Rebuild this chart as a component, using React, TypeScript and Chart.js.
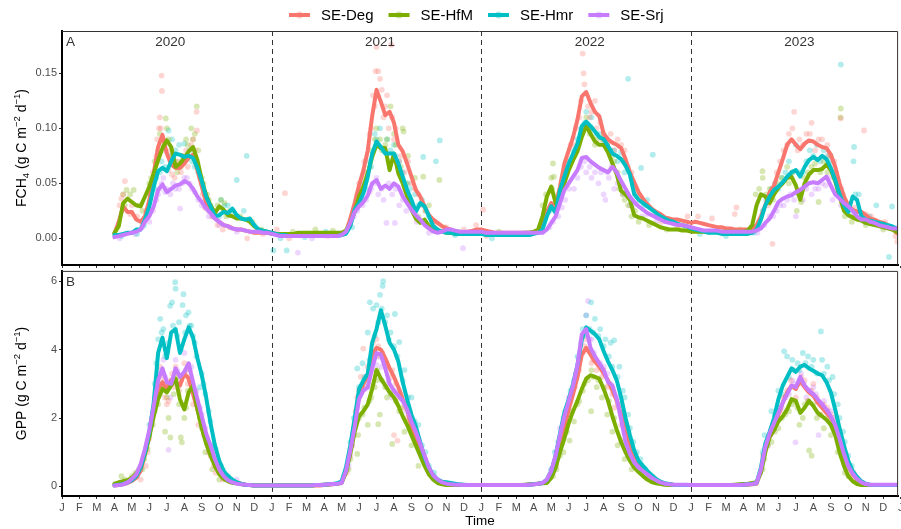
import React, { useEffect, useRef } from "react";
import { Chart, registerables } from "chart.js";

Chart.register(...registerables);

const FONT = '"Liberation Sans", Arial, Helvetica, sans-serif';
Chart.defaults.font.family = FONT;

// ---------------- data ----------------
const SITES = ["SE-Deg", "SE-HfM", "SE-Hmr", "SE-Srj"];
const COLORS = ["#F8766D", "#7CAE00", "#00BFC4", "#C77CFF"];
const MONTH_LETTERS = ["J", "F", "M", "A", "M", "J", "J", "A", "S", "O", "N", "D"];
const YEAR_LABELS = ["2020", "2021", "2022", "2023"];
const YEAR_BREAKS = [12, 24, 36]; // months since Jan 2020
const MONTH_TICKS = Array.from({ length: 49 }, (_, i) => i);
const FCH4_TICKS = [0, 0.05, 0.1, 0.15];
const GPP_TICKS = [0, 2, 4, 6];

// smoothed-line time axis: months since 1 Jan 2020, weekly steps from April 2020
const LINE_MONTHS = Array.from({ length: 181 }, (_, i) => 3 + i * 0.25);

// FCH4 (g C m-2 d-1) smoothed lines
const fch4Deg = [
  0.004, 0.015, 0.029, 0.024, 0.024, 0.017, 0.015, 0.020, 0.035, 0.059, 0.083, 0.094, 0.077, 0.067, 0.064, 0.064,
  0.068, 0.073, 0.076, 0.062, 0.047, 0.032, 0.024, 0.018, 0.015, 0.012, 0.011, 0.009, 0.008, 0.008, 0.007, 0.006,
  0.005, 0.005, 0.005, 0.005,
  0.005, 0.004, 0.004, 0.004, 0.002, 0.002, 0.002, 0.002, 0.003, 0.003, 0.003, 0.003, 0.003, 0.003, 0.003, 0.003,
  0.003, 0.005, 0.018, 0.032, 0.048, 0.062, 0.080, 0.111, 0.135, 0.124, 0.112, 0.115, 0.105, 0.085, 0.079, 0.068,
  0.056, 0.044, 0.038, 0.029, 0.021, 0.017, 0.014, 0.011, 0.009, 0.008, 0.006, 0.005, 0.005, 0.006, 0.007, 0.008,
  0.008, 0.007, 0.006, 0.005, 0.005, 0.005, 0.005, 0.005, 0.005, 0.005, 0.005, 0.005, 0.005, 0.006, 0.014, 0.024,
  0.032, 0.029, 0.047, 0.068, 0.080, 0.092, 0.108, 0.129, 0.133, 0.123, 0.115, 0.111, 0.095, 0.090, 0.087, 0.085,
  0.082, 0.072, 0.060, 0.051, 0.042, 0.036, 0.031, 0.027, 0.024, 0.022, 0.019, 0.018, 0.017, 0.017, 0.016, 0.015,
  0.014, 0.015, 0.014, 0.013, 0.012, 0.011, 0.010, 0.010, 0.009, 0.009, 0.008, 0.008, 0.008, 0.008, 0.009, 0.012,
  0.020, 0.030, 0.042, 0.048, 0.060, 0.072, 0.085, 0.090, 0.085, 0.081, 0.086, 0.089, 0.088, 0.085, 0.083, 0.082,
  0.076, 0.065, 0.050, 0.038, 0.030, 0.026, 0.024, 0.024, 0.021, 0.018, 0.017, 0.015, 0.014, 0.012, 0.010, 0.005,
  0.003,
];
const fch4HfM = [
  0.005, 0.011, 0.032, 0.036, 0.033, 0.030, 0.029, 0.038, 0.047, 0.059, 0.071, 0.082, 0.089, 0.083, 0.065, 0.068,
  0.073, 0.079, 0.083, 0.071, 0.053, 0.039, 0.030, 0.023, 0.029, 0.026, 0.021, 0.020, 0.018, 0.018, 0.017, 0.015,
  0.011, 0.008, 0.007, 0.006,
  0.004, 0.004, 0.004, 0.004, 0.004, 0.004, 0.005, 0.005, 0.005, 0.005, 0.005, 0.005, 0.005, 0.005, 0.005, 0.005,
  0.005, 0.007, 0.014, 0.024, 0.038, 0.047, 0.059, 0.074, 0.085, 0.082, 0.082, 0.062, 0.077, 0.059, 0.050, 0.038,
  0.026, 0.018, 0.014, 0.017, 0.011, 0.008, 0.007, 0.006, 0.005, 0.005, 0.004, 0.004, 0.004, 0.004, 0.004, 0.004,
  0.004, 0.004, 0.004, 0.004, 0.004, 0.004, 0.004, 0.004, 0.004, 0.004, 0.005, 0.005, 0.006, 0.008, 0.020, 0.038,
  0.047, 0.032, 0.035, 0.050, 0.062, 0.071, 0.079, 0.092, 0.102, 0.095, 0.088, 0.085, 0.085, 0.078, 0.068, 0.058,
  0.043, 0.040, 0.035, 0.021, 0.019, 0.018, 0.016, 0.014, 0.012, 0.010, 0.009, 0.008, 0.008, 0.008, 0.007, 0.007,
  0.006, 0.006, 0.006, 0.006, 0.006, 0.006, 0.006, 0.006, 0.006, 0.006, 0.006, 0.006, 0.006, 0.007, 0.012, 0.030,
  0.040, 0.038, 0.032, 0.040, 0.046, 0.050, 0.055, 0.056, 0.048, 0.035, 0.050, 0.058, 0.062, 0.062, 0.063, 0.067,
  0.062, 0.052, 0.038, 0.025, 0.021, 0.019, 0.017, 0.016, 0.014, 0.013, 0.012, 0.011, 0.010, 0.009, 0.008, 0.006,
  0.006,
];
const fch4Hmr = [
  0.003, 0.003, 0.004, 0.005, 0.005, 0.008, 0.008, 0.017, 0.029, 0.047, 0.061, 0.064, 0.061, 0.070, 0.077, 0.076,
  0.074, 0.075, 0.073, 0.064, 0.052, 0.038, 0.029, 0.020, 0.021, 0.024, 0.023, 0.027, 0.021, 0.018, 0.017, 0.018,
  0.012, 0.008, 0.007, 0.006,
  0.005, 0.004, 0.003, 0.003, 0.002, 0.002, 0.002, 0.002, 0.002, 0.002, 0.002, 0.002, 0.002, 0.002, 0.002, 0.002,
  0.003, 0.004, 0.011, 0.026, 0.032, 0.041, 0.056, 0.077, 0.088, 0.083, 0.077, 0.077, 0.077, 0.068, 0.056, 0.044,
  0.035, 0.024, 0.032, 0.029, 0.020, 0.011, 0.008, 0.006, 0.005, 0.005, 0.004, 0.004, 0.004, 0.004, 0.004, 0.004,
  0.004, 0.003, 0.003, 0.003, 0.003, 0.003, 0.003, 0.003, 0.003, 0.003, 0.003, 0.003, 0.004, 0.005, 0.008, 0.020,
  0.029, 0.023, 0.044, 0.056, 0.068, 0.077, 0.086, 0.102, 0.106, 0.102, 0.097, 0.092, 0.090, 0.084, 0.077, 0.075,
  0.072, 0.066, 0.058, 0.040, 0.035, 0.032, 0.029, 0.026, 0.023, 0.020, 0.018, 0.016, 0.015, 0.013, 0.012, 0.011,
  0.009, 0.008, 0.007, 0.006, 0.005, 0.005, 0.005, 0.004, 0.004, 0.004, 0.004, 0.004, 0.004, 0.004, 0.005, 0.008,
  0.017, 0.030, 0.038, 0.044, 0.047, 0.051, 0.056, 0.060, 0.062, 0.056, 0.065, 0.071, 0.074, 0.071, 0.075, 0.072,
  0.064, 0.053, 0.040, 0.030, 0.024, 0.038, 0.035, 0.020, 0.017, 0.016, 0.015, 0.014, 0.013, 0.012, 0.011, 0.009,
  0.008,
];
const fch4Srj = [
  0.001, 0.002, 0.003, 0.004, 0.005, 0.006, 0.008, 0.015, 0.020, 0.029, 0.044, 0.049, 0.042, 0.045, 0.048, 0.049,
  0.052, 0.050, 0.045, 0.038, 0.033, 0.027, 0.023, 0.018, 0.015, 0.012, 0.011, 0.009, 0.008, 0.008, 0.007, 0.006,
  0.006, 0.006, 0.005, 0.005,
  0.004, 0.003, 0.002, 0.002, 0.002, 0.002, 0.002, 0.002, 0.002, 0.002, 0.002, 0.002, 0.002, 0.002, 0.002, 0.002,
  0.003, 0.006, 0.014, 0.024, 0.029, 0.033, 0.039, 0.050, 0.053, 0.045, 0.048, 0.045, 0.050, 0.047, 0.038, 0.032,
  0.026, 0.021, 0.017, 0.012, 0.009, 0.006, 0.005, 0.006, 0.008, 0.008, 0.007, 0.006, 0.006, 0.006, 0.006, 0.006,
  0.006, 0.005, 0.005, 0.005, 0.005, 0.005, 0.005, 0.005, 0.005, 0.005, 0.005, 0.005, 0.005, 0.005, 0.005, 0.008,
  0.014, 0.020, 0.032, 0.044, 0.050, 0.056, 0.062, 0.073, 0.074, 0.070, 0.067, 0.064, 0.062, 0.060, 0.065, 0.060,
  0.052, 0.045, 0.038, 0.033, 0.029, 0.026, 0.023, 0.021, 0.019, 0.017, 0.015, 0.014, 0.013, 0.012, 0.012, 0.011,
  0.010, 0.009, 0.008, 0.007, 0.007, 0.007, 0.007, 0.006, 0.006, 0.006, 0.006, 0.006, 0.006, 0.006, 0.006, 0.007,
  0.009, 0.014, 0.018, 0.025, 0.033, 0.036, 0.038, 0.039, 0.042, 0.044, 0.047, 0.050, 0.051, 0.050, 0.053, 0.056,
  0.048, 0.040, 0.036, 0.032, 0.029, 0.025, 0.020, 0.017, 0.017, 0.015, 0.014, 0.012, 0.011, 0.010, 0.009, 0.009,
  0.010,
];

// GPP (g C m-2 d-1) smoothed lines
const gppDeg = [
  0.03, 0.04, 0.06, 0.10, 0.16, 0.25, 0.45, 0.95, 1.50, 2.20, 2.85, 3.05, 2.85, 3.10, 3.05, 2.95,
  3.30, 3.15, 2.70, 2.25, 1.85, 1.40, 1.00, 0.65, 0.40, 0.30, 0.20, 0.16, 0.12, 0.08, 0.05, 0.04,
  0.03, 0.03, 0.03, 0.03,
  0.03, 0.03, 0.03, 0.03, 0.03, 0.03, 0.03, 0.03, 0.03, 0.03, 0.03, 0.03, 0.04, 0.05, 0.06, 0.08,
  0.12, 0.45, 1.05, 1.80, 2.65, 3.00, 3.25, 3.85, 4.05, 4.00, 3.75, 3.45, 3.20, 2.90, 2.55, 2.25,
  1.75, 1.40, 1.10, 0.80, 0.50, 0.30, 0.18, 0.12, 0.08, 0.06, 0.05, 0.04, 0.04, 0.04, 0.04, 0.04,
  0.04, 0.04, 0.04, 0.04, 0.04, 0.04, 0.04, 0.04, 0.04, 0.04, 0.04, 0.05, 0.06, 0.08, 0.10, 0.15,
  0.35, 0.70, 1.30, 1.75, 2.25, 2.70, 3.20, 3.85, 4.05, 3.85, 3.65, 3.50, 3.30, 3.10, 2.80, 2.50,
  2.10, 1.60, 1.15, 0.85, 0.65, 0.50, 0.38, 0.28, 0.20, 0.13, 0.08, 0.06, 0.04, 0.04, 0.04, 0.04,
  0.04, 0.04, 0.04, 0.04, 0.04, 0.04, 0.04, 0.04, 0.04, 0.04, 0.04, 0.04, 0.04, 0.05, 0.06, 0.08,
  0.45, 1.10, 1.45, 1.65, 2.10, 2.45, 2.75, 2.95, 2.85, 3.10, 2.90, 2.75, 2.65, 2.45, 2.30, 2.15,
  2.00, 1.75, 1.40, 0.95, 0.60, 0.35, 0.20, 0.10, 0.06, 0.04, 0.04, 0.04, 0.04, 0.04, 0.04, 0.04,
  0.04,
];
const gppHfM = [
  0.08, 0.12, 0.15, 0.18, 0.25, 0.38, 0.55, 0.95, 1.45, 2.05, 2.55, 2.85, 2.75, 2.95, 3.15, 2.55,
  2.25, 2.75, 2.95, 2.25, 1.70, 1.25, 0.90, 0.60, 0.35, 0.22, 0.15, 0.10, 0.09, 0.07, 0.05, 0.04,
  0.03, 0.03, 0.03, 0.03,
  0.03, 0.03, 0.03, 0.03, 0.03, 0.03, 0.03, 0.03, 0.03, 0.03, 0.04, 0.04, 0.05, 0.06, 0.07, 0.08,
  0.10, 0.40, 0.95, 1.60, 2.05, 2.20, 2.40, 2.85, 3.40, 3.15, 2.95, 2.75, 2.60, 2.35, 2.05, 1.80,
  1.50, 1.20, 0.90, 0.60, 0.35, 0.20, 0.10, 0.06, 0.04, 0.04, 0.04, 0.04, 0.04, 0.04, 0.04, 0.04,
  0.04, 0.04, 0.04, 0.04, 0.04, 0.04, 0.04, 0.04, 0.04, 0.04, 0.05, 0.06, 0.07, 0.08, 0.09, 0.10,
  0.25, 0.55, 1.00, 1.40, 1.85, 2.20, 2.50, 2.85, 3.15, 3.25, 3.20, 3.15, 2.85, 2.50, 2.05, 1.65,
  1.30, 1.00, 0.75, 0.55, 0.42, 0.30, 0.20, 0.13, 0.09, 0.07, 0.05, 0.04, 0.04, 0.04, 0.04, 0.04,
  0.04, 0.04, 0.04, 0.04, 0.04, 0.04, 0.04, 0.04, 0.04, 0.04, 0.05, 0.06, 0.07, 0.08, 0.10, 0.12,
  0.40, 1.00, 1.45, 1.65, 1.90, 2.05, 2.25, 2.55, 2.50, 2.15, 2.30, 2.50, 2.35, 2.15, 2.05, 1.95,
  1.80, 1.50, 1.00, 0.60, 0.30, 0.15, 0.07, 0.04, 0.04, 0.04, 0.04, 0.04, 0.04, 0.04, 0.04, 0.04,
  0.04,
];
const gppHmr = [
  0.03, 0.05, 0.07, 0.12, 0.18, 0.30, 0.55, 1.00, 1.60, 2.45, 3.90, 4.35, 3.75, 4.50, 4.60, 3.90,
  4.30, 4.65, 4.35, 3.75, 3.25, 2.60, 1.85, 1.20, 0.75, 0.45, 0.30, 0.20, 0.12, 0.08, 0.05, 0.04,
  0.03, 0.03, 0.03, 0.03,
  0.03, 0.03, 0.03, 0.03, 0.03, 0.03, 0.03, 0.03, 0.03, 0.03, 0.04, 0.04, 0.05, 0.06, 0.07, 0.09,
  0.15, 0.55, 1.20, 2.00, 2.85, 3.10, 3.30, 4.20, 4.60, 5.15, 4.70, 4.20, 4.00, 3.65, 3.05, 2.55,
  2.10, 1.75, 1.30, 0.85, 0.55, 0.33, 0.20, 0.14, 0.12, 0.10, 0.08, 0.06, 0.05, 0.04, 0.04, 0.04,
  0.04, 0.04, 0.04, 0.04, 0.04, 0.04, 0.04, 0.04, 0.04, 0.04, 0.04, 0.05, 0.06, 0.08, 0.10, 0.20,
  0.45, 0.90, 1.55, 2.15, 2.55, 3.00, 3.55, 4.30, 4.65, 4.55, 4.45, 4.30, 3.95, 3.65, 3.40, 3.10,
  2.60, 2.00, 1.50, 1.05, 0.75, 0.60, 0.45, 0.33, 0.22, 0.14, 0.09, 0.07, 0.05, 0.04, 0.04, 0.04,
  0.04, 0.04, 0.04, 0.04, 0.04, 0.04, 0.04, 0.04, 0.04, 0.04, 0.04, 0.04, 0.05, 0.06, 0.07, 0.10,
  0.55, 1.25, 1.60, 2.00, 2.55, 2.95, 3.20, 3.45, 3.35, 3.50, 3.55, 3.45, 3.38, 3.30, 3.25, 3.05,
  2.75, 2.25, 1.70, 1.20, 0.75, 0.45, 0.28, 0.15, 0.08, 0.05, 0.04, 0.04, 0.04, 0.04, 0.04, 0.04,
  0.04,
];
const gppSrj = [
  0.03, 0.04, 0.06, 0.12, 0.22, 0.35, 0.65, 1.10, 1.65, 2.35, 3.10, 3.45, 3.05, 3.00, 3.45, 3.20,
  3.35, 3.60, 3.05, 2.55, 2.05, 1.55, 1.20, 0.80, 0.50, 0.30, 0.18, 0.12, 0.08, 0.06, 0.05, 0.04,
  0.03, 0.03, 0.03, 0.03,
  0.03, 0.03, 0.03, 0.03, 0.03, 0.03, 0.03, 0.03, 0.03, 0.03, 0.04, 0.04, 0.05, 0.06, 0.07, 0.08,
  0.10, 0.45, 1.05, 1.75, 2.55, 2.80, 2.90, 3.45, 3.90, 3.85, 3.45, 3.00, 2.80, 2.65, 2.50, 2.25,
  1.90, 1.60, 1.25, 0.90, 0.55, 0.32, 0.20, 0.12, 0.08, 0.06, 0.05, 0.05, 0.04, 0.04, 0.04, 0.04,
  0.04, 0.04, 0.04, 0.04, 0.04, 0.04, 0.04, 0.04, 0.04, 0.04, 0.04, 0.05, 0.06, 0.08, 0.10, 0.20,
  0.45, 0.90, 1.50, 2.05, 2.50, 2.95, 3.55, 4.45, 4.60, 4.05, 3.80, 3.60, 3.40, 3.05, 2.95, 2.55,
  1.95, 1.30, 0.95, 0.70, 0.55, 0.45, 0.35, 0.25, 0.18, 0.12, 0.08, 0.06, 0.05, 0.05, 0.05, 0.05,
  0.04, 0.04, 0.04, 0.04, 0.04, 0.04, 0.04, 0.04, 0.04, 0.04, 0.04, 0.04, 0.05, 0.06, 0.07, 0.10,
  0.50, 1.15, 1.55, 1.85, 2.15, 2.45, 2.70, 2.95, 2.90, 3.20, 2.95, 2.80, 2.70, 2.55, 2.40, 2.25,
  2.05, 1.80, 1.40, 0.95, 0.60, 0.38, 0.22, 0.12, 0.07, 0.05, 0.05, 0.05, 0.05, 0.05, 0.05, 0.05,
  0.05,
];

// daily observations shown as faint dots: [month since Jan 2020, value]
const fch4DegObs = [
  [3.3, 0.030], [3.4, 0.036], [3.5, 0.040], [3.6, 0.052], [3.9, 0.022], [4.0, 0.030], [4.3, 0.020], [4.6, 0.012],
  [4.8, 0.025], [5.1, 0.045], [5.2, 0.060], [5.4, 0.075], [5.45, 0.090], [5.55, 0.100], [5.6, 0.110], [5.65, 0.100],
  [5.7, 0.148], [5.72, 0.134], [5.8, 0.090], [5.9, 0.080], [6.1, 0.062], [6.2, 0.080], [6.3, 0.058], [6.45, 0.055],
  [6.6, 0.070], [6.8, 0.060], [6.9, 0.075], [7.1, 0.080], [7.2, 0.065], [7.4, 0.085], [7.5, 0.090], [7.6, 0.080],
  [7.7, 0.115], [7.72, 0.098], [7.9, 0.055], [8.05, 0.040], [8.2, 0.028], [8.4, 0.025], [8.6, 0.020], [8.9, 0.012],
  [9.2, 0.008], [9.6, 0.010], [10.6, 0.000], [11.5, 0.004], [12.76, 0.041],
  [12.3, 0.008], [13.0, 0.000], [15.2, 0.002], [16.4, 0.012], [16.9, 0.040], [17.0, 0.050], [17.3, 0.070], [17.4, 0.060],
  [17.6, 0.095], [17.7, 0.100], [17.8, 0.130], [17.9, 0.120], [17.95, 0.152], [18.0, 0.174], [18.1, 0.152], [18.2, 0.145],
  [18.3, 0.135], [18.4, 0.110], [18.5, 0.120], [18.6, 0.130], [18.7, 0.100], [18.85, 0.176], [18.9, 0.110], [19.0, 0.090],
  [19.1, 0.100], [19.3, 0.070], [19.4, 0.075], [19.6, 0.060], [19.8, 0.070], [20.0, 0.050], [20.2, 0.045], [20.4, 0.040],
  [20.6, 0.030], [20.8, 0.025], [21.3, 0.012], [22.0, 0.010], [23.0, 0.008], [23.7, 0.012],
  [24.1, 0.026], [24.3, 0.002], [25.5, 0.004], [27.6, 0.020], [28.1, 0.030], [28.3, 0.035], [28.6, 0.050], [28.8, 0.060],
  [29.0, 0.070], [29.1, 0.085], [29.3, 0.085], [29.4, 0.100], [29.6, 0.110], [29.7, 0.125], [29.8, 0.168], [29.85, 0.150],
  [29.9, 0.140], [30.1, 0.120], [30.2, 0.110], [30.3, 0.115], [30.5, 0.125], [30.6, 0.100], [30.8, 0.105], [31.0, 0.090],
  [31.2, 0.085], [31.4, 0.095], [31.6, 0.080], [31.8, 0.090], [32.0, 0.085], [32.2, 0.080], [32.4, 0.065], [32.6, 0.060],
  [32.8, 0.045], [33.0, 0.040], [33.2, 0.035], [33.5, 0.030], [34.3, 0.015], [35.2, 0.010], [35.8, 0.020],
  [36.4, 0.020], [37.2, 0.018], [38.5, 0.022], [38.6, 0.028], [39.9, 0.010], [40.4, 0.030], [40.66, -0.005], [40.7, 0.045],
  [40.9, 0.060], [41.1, 0.070], [41.3, 0.080], [41.5, 0.085], [41.6, 0.095], [41.8, 0.100], [41.9, 0.115], [42.1, 0.080],
  [42.2, 0.090], [42.4, 0.085], [42.6, 0.095], [42.8, 0.095], [42.9, 0.105], [43.1, 0.080], [43.3, 0.090], [43.5, 0.090],
  [43.8, 0.085], [43.9, 0.075], [44.2, 0.070], [44.3, 0.060], [44.57, 0.109], [44.6, 0.045], [44.7, 0.040], [45.0, 0.030],
  [45.4, 0.028], [45.6, 0.025], [45.9, 0.098], [46.0, 0.022], [46.3, 0.020], [47.1, 0.015], [47.7, 0.002], [47.8, -0.003],
];
const fch4HfMObs = [
  [3.5, 0.040], [3.6, 0.030], [3.7, 0.044], [3.9, 0.040], [4.1, 0.044], [4.4, 0.030], [4.6, 0.025], [5.0, 0.050],
  [5.1, 0.055], [5.3, 0.070], [5.5, 0.080], [5.6, 0.095], [5.8, 0.085], [5.94, 0.109], [6.0, 0.100], [6.1, 0.090],
  [6.3, 0.075], [6.5, 0.070], [6.6, 0.060], [6.8, 0.065], [6.9, 0.075], [7.1, 0.090], [7.2, 0.085], [7.4, 0.100],
  [7.5, 0.090], [7.6, 0.095], [7.71, 0.120], [7.8, 0.080], [8.0, 0.055], [8.1, 0.050], [8.3, 0.040], [8.4, 0.035],
  [8.8, 0.025], [8.9, 0.030], [9.1, 0.035], [9.3, 0.032], [9.4, 0.020], [9.6, 0.025], [10.2, 0.020], [10.9, 0.015],
  [11.4, 0.008],
  [13.2, 0.006], [14.5, 0.008], [15.5, 0.007], [16.6, 0.020], [17.1, 0.045], [17.3, 0.055], [17.4, 0.060], [17.6, 0.065],
  [17.7, 0.080], [17.9, 0.090], [18.0, 0.100], [18.2, 0.090], [18.3, 0.080], [18.5, 0.085], [18.6, 0.090], [18.75, 0.070],
  [18.8, 0.120], [19.0, 0.095], [19.1, 0.085], [19.4, 0.065], [19.5, 0.100], [19.55, 0.097], [19.7, 0.050], [19.8, 0.075],
  [20.0, 0.030], [20.2, 0.055], [20.4, 0.020], [20.67, 0.056], [20.8, 0.025], [21.0, 0.030], [21.6, 0.053], [21.9, 0.010],
  [22.7, 0.006],
  [25.0, 0.006], [27.5, 0.030], [27.7, 0.040], [28.0, 0.055], [28.05, 0.045], [28.1, 0.068], [28.15, 0.056], [28.3, 0.030],
  [28.4, 0.040], [28.6, 0.045], [28.9, 0.060], [29.0, 0.065], [29.3, 0.075], [29.5, 0.085], [29.7, 0.095], [29.9, 0.100],
  [30.0, 0.110], [30.2, 0.095], [30.3, 0.100], [30.5, 0.085], [30.6, 0.090], [30.9, 0.090], [31.0, 0.095], [31.2, 0.085],
  [31.3, 0.080], [31.5, 0.075], [31.6, 0.070], [31.8, 0.060], [31.9, 0.045], [32.1, 0.040], [32.2, 0.035], [32.4, 0.030],
  [32.6, 0.020], [32.8, 0.025], [33.0, 0.015], [33.6, 0.012], [34.6, 0.008], [35.5, 0.010],
  [37.0, 0.006], [38.8, 0.008], [39.7, 0.040], [39.9, 0.045], [40.09, 0.061], [40.1, 0.055], [40.3, 0.040], [40.5, 0.045],
  [40.7, 0.035], [41.0, 0.050], [41.2, 0.055], [41.5, 0.065], [41.6, 0.050], [41.8, 0.060], [42.05, 0.025], [42.15, 0.040],
  [42.3, 0.033], [42.5, 0.055], [42.7, 0.060], [42.9, 0.065], [43.1, 0.068], [43.3, 0.033], [43.4, 0.060], [43.6, 0.070],
  [43.8, 0.060], [44.0, 0.075], [44.2, 0.055], [44.4, 0.040], [44.55, 0.110], [44.57, 0.118], [44.8, 0.020], [44.9, 0.025],
  [45.2, 0.015], [45.5, 0.018], [46.0, 0.012], [47.0, 0.008],
];
const fch4HmrObs = [
  [3.4, 0.002], [4.3, 0.004], [4.7, 0.012], [4.9, 0.020], [5.1, 0.040], [5.3, 0.045], [5.4, 0.055], [5.6, 0.060],
  [5.7, 0.070], [5.9, 0.065], [6.1, 0.098], [6.2, 0.075], [6.3, 0.090], [6.5, 0.080], [6.7, 0.085], [6.85, 0.070],
  [7.0, 0.086], [7.15, 0.075], [7.3, 0.080], [7.45, 0.070], [7.6, 0.065], [7.8, 0.060], [8.0, 0.050], [8.2, 0.040],
  [8.3, 0.030], [8.5, 0.030], [8.7, 0.020], [9.0, 0.020], [9.1, 0.035], [9.3, 0.030], [9.5, 0.030], [9.7, 0.025],
  [10.0, 0.053], [10.4, 0.025], [10.57, 0.075], [11.0, 0.012], [12.1, -0.011], [12.5, 0.000], [12.86, -0.011],
  [13.9, 0.001], [15.1, 0.006], [16.6, 0.010], [17.0, 0.035], [17.2, 0.050], [17.4, 0.045], [17.6, 0.070], [17.7, 0.065],
  [17.9, 0.095], [18.0, 0.090], [18.2, 0.100], [18.4, 0.080], [18.6, 0.090], [18.8, 0.080], [19.0, 0.085], [19.1, 0.075],
  [19.3, 0.070], [19.5, 0.060], [19.8, 0.050], [19.9, 0.045], [20.2, 0.040], [20.4, 0.030], [20.6, 0.035], [20.67, 0.074],
  [21.0, 0.020], [21.2, 0.015], [21.4, 0.070], [21.62, 0.089], [22.5, 0.003],
  [24.6, 0.000], [27.3, 0.006], [27.9, 0.025], [28.0, 0.030], [28.3, 0.030], [28.6, 0.050], [28.8, 0.060], [29.1, 0.070],
  [29.3, 0.080], [29.5, 0.090], [29.7, 0.100], [29.9, 0.105], [30.0, 0.115], [30.2, 0.100], [30.3, 0.110], [30.6, 0.095],
  [30.8, 0.095], [31.0, 0.085], [31.2, 0.090], [31.4, 0.080], [31.6, 0.080], [31.8, 0.070], [32.0, 0.078], [32.2, 0.060],
  [32.4, 0.145], [32.7, 0.050], [32.9, 0.040], [33.14, 0.064], [33.3, 0.030], [33.5, 0.035], [33.81, 0.076], [34.3, 0.020],
  [35.0, 0.016], [35.7, 0.010],
  [36.5, 0.004], [38.0, 0.002], [39.6, 0.005], [40.1, 0.025], [40.3, 0.035], [40.6, 0.045], [40.8, 0.050], [41.0, 0.045],
  [41.2, 0.055], [41.4, 0.060], [41.6, 0.070], [41.8, 0.060], [42.0, 0.085], [42.2, 0.060], [42.4, 0.060], [42.6, 0.070],
  [42.8, 0.080], [43.0, 0.075], [43.2, 0.085], [43.4, 0.070], [43.6, 0.080], [43.8, 0.075], [44.0, 0.070], [44.2, 0.060],
  [44.5, 0.045], [44.57, 0.158], [44.9, 0.030], [45.1, 0.025], [45.3, 0.070], [45.33, 0.083], [45.4, 0.040], [45.6, 0.040],
  [46.2, 0.020], [46.6, 0.030], [47.33, -0.017], [47.5, 0.029], [47.9, 0.010],
];
const fch4SrjObs = [
  [3.3, 0.000], [4.2, 0.004], [4.6, 0.010], [5.0, 0.015], [5.2, 0.025], [5.4, 0.035], [5.5, 0.040], [5.6, 0.045],
  [5.7, 0.050], [5.8, 0.055], [5.9, 0.042], [6.0, 0.045], [6.2, 0.040], [6.35, 0.050], [6.5, 0.045], [6.7, 0.045],
  [6.76, 0.027], [6.9, 0.050], [7.0, 0.055], [7.15, 0.055], [7.3, 0.050], [7.45, 0.045], [7.6, 0.042], [7.8, 0.035],
  [8.0, 0.030], [8.2, 0.028], [8.4, 0.020], [8.6, 0.020], [9.0, 0.012], [10.0, 0.006],
  [13.5, -0.013], [14.3, 0.000], [16.7, 0.020], [16.9, 0.025], [17.2, 0.030], [17.4, 0.035], [17.6, 0.042], [17.7, 0.045],
  [17.9, 0.050], [18.0, 0.055], [18.1, 0.040], [18.3, 0.045], [18.4, 0.035], [18.57, 0.014], [18.7, 0.050], [18.9, 0.040],
  [19.05, 0.014], [19.1, 0.045], [19.3, 0.030], [19.5, 0.035], [19.7, 0.025], [19.9, 0.030], [20.1, 0.025], [20.3, 0.015],
  [20.6, 0.015], [21.0, 0.005], [22.95, -0.009],
  [27.9, 0.010], [28.1, 0.015], [28.4, 0.020], [28.6, 0.028], [28.8, 0.035], [29.0, 0.045], [29.3, 0.045], [29.5, 0.055],
  [29.7, 0.065], [29.9, 0.070], [30.0, 0.060], [30.2, 0.065], [30.3, 0.055], [30.5, 0.060], [30.7, 0.050], [30.85, 0.060],
  [31.0, 0.040], [31.1, 0.035], [31.2, 0.060], [31.3, 0.055], [31.45, 0.065], [31.6, 0.045], [31.8, 0.050], [32.1, 0.040],
  [32.3, 0.040], [32.5, 0.030], [32.7, 0.030], [33.2, 0.020], [33.5, 0.022], [34.0, 0.015],
  [39.8, 0.005], [40.2, 0.012], [40.5, 0.020], [40.7, 0.020], [40.9, 0.025], [41.1, 0.030], [41.3, 0.030], [41.5, 0.035],
  [41.7, 0.040], [41.9, 0.035], [42.0, 0.020], [42.2, 0.040], [42.4, 0.035], [42.6, 0.045], [42.9, 0.040], [43.1, 0.045],
  [43.3, 0.045], [43.5, 0.050], [43.7, 0.048], [43.9, 0.055], [44.1, 0.035], [44.3, 0.040], [44.6, 0.030], [44.8, 0.030],
  [45.2, 0.020], [45.4, 0.022], [46.0, 0.015],
];

const gppDegObs = [
  [4.5, 0.2], [4.8, 0.6], [4.9, 1.0], [5.0, 1.4], [5.1, 1.8], [5.3, 2.3], [5.4, 2.8], [5.5, 3.2],
  [5.6, 3.5], [5.7, 3.2], [5.8, 2.9], [5.9, 2.6], [6.0, 2.4], [6.1, 2.5], [6.2, 3.1], [6.3, 3.3],
  [6.4, 2.9], [6.5, 3.5], [6.6, 3.3], [6.7, 2.8], [6.8, 3.1], [7.0, 3.6], [7.1, 3.4], [7.2, 3.0],
  [7.3, 3.2], [7.5, 2.4], [7.6, 2.6], [7.8, 1.8], [7.9, 2.0], [8.1, 1.5], [8.2, 1.5], [8.4, 1.0],
  [8.5, 0.9], [8.7, 0.6], [8.8, 0.4], [9.2, 0.2],
  [16.3, 0.4], [16.5, 0.9], [16.6, 1.2], [16.8, 2.2], [16.9, 2.6], [17.0, 2.8], [17.1, 3.2], [17.24, 4.03],
  [17.4, 3.2], [17.5, 3.5], [17.7, 3.6], [17.8, 4.2], [17.9, 3.9], [18.0, 4.3], [18.1, 4.1], [18.2, 3.8],
  [18.35, 3.9], [18.5, 3.6], [18.6, 3.5], [18.8, 3.2], [18.9, 3.4], [19.0, 1.5], [19.1, 3.0], [19.2, 1.34],
  [19.3, 2.6], [19.4, 2.7], [19.6, 2.3], [19.7, 2.0], [19.9, 2.1], [20.1, 1.6], [20.3, 1.5], [20.5, 1.0],
  [20.7, 0.9], [21.0, 0.4],
  [28.1, 0.4], [28.3, 0.6], [28.5, 1.1], [28.6, 1.4], [28.8, 1.8], [29.0, 2.1], [29.2, 2.7], [29.35, 2.9],
  [29.5, 3.3], [29.6, 3.4], [29.8, 3.9], [29.9, 4.1], [30.0, 4.3], [30.1, 4.0], [30.3, 3.6], [30.4, 3.7],
  [30.6, 3.4], [30.7, 3.6], [30.9, 3.2], [31.0, 3.4], [31.2, 2.9], [31.3, 3.0], [31.5, 2.7], [31.6, 2.3],
  [31.8, 2.4], [32.0, 1.8], [32.2, 1.7], [32.4, 1.2], [32.6, 1.0], [32.8, 0.8], [33.3, 0.5],
  [40.1, 0.9], [40.3, 1.2], [40.5, 1.5], [40.7, 1.7], [40.9, 2.0], [41.1, 2.2], [41.3, 2.6], [41.5, 2.8],
  [41.7, 3.1], [41.9, 2.9], [42.0, 2.6], [42.2, 3.0], [42.3, 3.2], [42.5, 3.1], [42.7, 2.5], [42.9, 2.8],
  [43.0, 3.0], [43.2, 2.6], [43.4, 2.1], [43.6, 2.4], [43.8, 2.3], [44.0, 2.1], [44.2, 2.0], [44.3, 1.8],
  [44.5, 1.6], [44.7, 1.1], [44.9, 0.8], [45.1, 0.5], [45.3, 0.4],
];
const gppHfMObs = [
  [3.4, 0.3], [3.6, 0.2], [4.0, 0.3], [4.2, 0.4], [4.4, 0.5], [4.6, 0.5], [4.7, 0.8], [4.9, 1.1],
  [5.0, 1.5], [5.2, 1.8], [5.3, 2.2], [5.5, 2.4], [5.6, 2.7], [5.7, 3.0], [5.8, 2.9], [5.9, 1.6],
  [6.0, 2.6], [6.1, 2.0], [6.2, 1.43], [6.3, 3.0], [6.4, 2.7], [6.5, 3.1], [6.6, 3.2], [6.7, 2.4],
  [6.8, 1.43], [6.86, 1.29], [7.0, 2.0], [7.1, 2.3], [7.2, 2.8], [7.3, 3.1], [7.45, 3.0], [7.6, 2.8],
  [7.7, 2.4], [7.9, 2.0], [8.0, 1.7], [8.2, 1.0], [8.4, 1.2], [8.6, 0.5], [8.8, 0.6], [9.0, 0.2], [9.2, 0.3],
  [16.4, 0.5], [16.5, 0.8], [16.7, 1.5], [16.9, 0.95], [16.95, 1.5], [17.0, 2.0], [17.2, 2.1], [17.3, 2.3],
  [17.5, 1.8], [17.6, 2.5], [17.7, 2.6], [17.9, 2.9], [18.0, 3.1], [18.05, 3.4], [18.1, 1.82], [18.19, 2.1],
  [18.3, 3.1], [18.5, 2.9], [18.6, 2.6], [18.8, 2.7], [18.9, 1.24], [19.1, 2.5], [19.3, 2.2], [19.4, 2.3],
  [19.6, 1.6], [19.7, 1.9], [20.0, 1.2], [20.2, 1.4], [20.4, 0.6], [20.6, 0.9],
  [28.1, 0.3], [28.3, 0.5], [28.5, 0.9], [28.7, 1.0], [28.9, 1.6], [29.05, 1.34], [29.2, 2.2], [29.3, 1.9],
  [29.5, 2.4], [29.6, 2.5], [29.8, 2.8], [29.9, 3.0], [30.1, 3.1], [30.28, 2.2], [30.3, 3.4], [30.4, 3.2],
  [30.6, 2.9], [30.7, 3.1], [30.9, 2.6], [31.0, 2.9], [31.2, 2.1], [31.3, 2.5], [31.5, 1.6], [31.6, 2.0],
  [31.8, 1.2], [32.0, 1.3], [32.2, 0.8], [32.4, 0.9], [32.6, 0.5],
  [40.1, 0.5], [40.2, 0.8], [40.4, 1.2], [40.6, 1.3], [40.8, 1.6], [41.0, 1.7], [41.2, 2.0], [41.4, 2.1],
  [41.6, 2.2], [41.8, 2.4], [41.9, 2.5], [42.1, 2.3], [42.2, 1.8], [42.4, 2.0], [42.5, 2.4], [42.7, 2.5],
  [42.76, 1.05], [42.9, 0.9], [43.0, 2.4], [43.2, 2.0], [43.4, 2.1], [43.6, 1.7], [43.8, 2.0], [44.0, 1.5],
  [44.2, 1.7], [44.4, 1.0], [44.6, 0.9], [44.8, 0.4], [45.0, 0.3],
];
const gppHmrObs = [
  [4.5, 0.5], [4.8, 1.1], [5.0, 1.8], [5.15, 2.0], [5.3, 3.0], [5.4, 3.6], [5.5, 4.3], [5.62, 4.9],
  [5.7, 4.5], [5.8, 4.6], [5.9, 3.8], [6.0, 4.0], [6.1, 4.2], [6.19, 5.28], [6.3, 5.38], [6.35, 4.7],
  [6.48, 5.97], [6.5, 5.78], [6.6, 4.4], [6.7, 4.8], [6.8, 4.0], [6.9, 5.3], [6.95, 5.62], [7.05, 4.5],
  [7.1, 5.0], [7.24, 5.09], [7.3, 4.7], [7.4, 4.7], [7.5, 4.4], [7.6, 4.2], [7.7, 3.8], [7.9, 2.9],
  [8.0, 3.3], [8.1, 3.0], [8.2, 2.7], [8.4, 2.2], [8.5, 1.9], [8.7, 1.2], [8.8, 1.1], [9.1, 0.6],
  [9.2, 0.5], [9.5, 0.3],
  [16.3, 0.5], [16.5, 1.3], [16.7, 2.0], [16.9, 3.45], [17.0, 2.9], [17.2, 3.6], [17.3, 3.2], [17.5, 4.5],
  [17.6, 3.7], [17.62, 5.38], [17.8, 5.2], [17.9, 4.4], [18.0, 5.3], [18.1, 4.8], [18.2, 5.6], [18.3, 5.2],
  [18.35, 5.86], [18.38, 6.0], [18.5, 4.8], [18.6, 5.0], [18.7, 4.3], [18.8, 4.5], [19.0, 4.1], [19.05, 5.04],
  [19.2, 3.8], [19.3, 4.22], [19.5, 3.1], [19.6, 3.4], [19.8, 2.6], [20.0, 2.6], [20.2, 1.9], [20.4, 1.8],
  [20.6, 1.2], [20.8, 1.0], [21.0, 0.6], [21.3, 0.4],
  [28.0, 0.5], [28.2, 1.0], [28.4, 1.3], [28.7, 2.0], [28.8, 2.2], [29.1, 2.8], [29.3, 3.1], [29.5, 3.8],
  [29.6, 3.7], [29.8, 4.6], [29.9, 4.4], [30.0, 5.0], [30.2, 4.6], [30.28, 5.38], [30.4, 4.5], [30.5, 4.9],
  [30.7, 4.4], [30.8, 4.6], [31.0, 4.1], [31.1, 4.3], [31.3, 3.8], [31.4, 4.2], [31.5, 3.5], [31.6, 4.27],
  [31.8, 3.2], [31.9, 3.5], [32.1, 2.8], [32.2, 2.6], [32.4, 2.1], [32.5, 1.7], [32.7, 1.3], [32.9, 1.0],
  [33.1, 0.8], [33.4, 0.5],
  [40.1, 1.0], [40.2, 1.5], [40.4, 1.4], [40.6, 2.2], [40.8, 2.1], [41.0, 2.8], [41.2, 2.7], [41.33, 3.95],
  [41.5, 3.8], [41.6, 3.2], [41.8, 3.7], [41.9, 3.4], [42.1, 3.6], [42.2, 3.4], [42.4, 3.9], [42.55, 3.6],
  [42.7, 3.8], [42.9, 3.5], [43.0, 3.7], [43.2, 3.3], [43.43, 4.53], [43.5, 3.7], [43.6, 3.3], [43.8, 3.5],
  [43.9, 3.1], [44.1, 3.2], [44.2, 2.7], [44.4, 2.4], [44.5, 2.0], [44.7, 1.6], [44.8, 1.3], [45.0, 0.9],
  [45.2, 0.6],
];
const gppSrjObs = [
  [4.3, 0.3], [4.5, 0.6], [4.7, 0.9], [4.9, 1.3], [5.1, 1.8], [5.3, 2.6], [5.4, 2.9], [5.6, 3.4],
  [5.65, 3.3], [5.8, 3.7], [5.9, 3.2], [6.0, 2.9], [6.1, 1.07], [6.2, 2.6], [6.3, 3.1], [6.5, 3.7],
  [6.6, 3.4], [6.7, 3.0], [6.85, 3.2], [7.0, 3.9], [7.1, 3.4], [7.3, 3.4], [7.4, 3.5], [7.6, 2.7],
  [7.7, 2.8], [7.9, 2.3], [8.0, 2.1], [8.2, 1.7], [8.3, 1.4], [8.5, 1.2], [8.8, 0.7], [8.9, 0.6],
  [9.3, 0.3], [10.0, 0.2],
  [16.4, 0.6], [16.6, 1.2], [16.8, 2.0], [17.0, 2.6], [17.3, 3.0], [17.5, 2.9], [17.7, 3.6], [17.8, 3.4],
  [18.0, 3.55], [18.1, 3.8], [18.3, 3.5], [18.4, 3.7], [18.6, 3.0], [18.7, 3.1], [18.9, 2.6], [19.0, 2.8],
  [19.3, 2.8], [19.4, 2.6], [19.7, 2.2], [19.8, 2.3], [20.0, 1.8], [20.2, 1.5], [20.4, 1.4], [20.6, 1.0],
  [20.8, 0.8], [21.0, 0.5],
  [28.0, 0.5], [28.3, 1.0], [28.5, 1.7], [28.7, 1.9], [29.0, 2.6], [29.2, 2.8], [29.4, 3.3], [29.6, 3.6],
  [29.7, 4.2], [29.9, 4.5], [30.0, 5.0], [30.1, 5.42], [30.2, 4.3], [30.3, 4.3], [30.45, 3.9], [30.6, 3.7],
  [30.8, 3.6], [31.0, 3.5], [31.2, 3.3], [31.4, 3.0], [31.5, 2.9], [31.8, 2.6], [31.9, 2.4], [32.1, 2.0],
  [32.3, 1.4], [32.5, 1.0], [32.7, 0.8], [33.0, 0.6],
  [40.2, 1.1], [40.4, 1.2], [40.6, 1.6], [40.8, 1.8], [41.0, 2.2], [41.2, 2.3], [41.4, 2.6], [41.6, 2.7],
  [41.8, 3.1], [41.95, 3.0], [41.98, 1.29], [42.2, 3.1], [42.3, 3.3], [42.45, 3.0], [42.6, 2.6], [42.8, 2.8],
  [43.0, 2.9], [43.15, 2.7], [43.3, 1.5], [43.5, 2.4], [43.6, 2.5], [43.85, 2.2], [44.0, 2.2], [44.2, 2.0],
  [44.4, 1.5], [44.6, 1.2], [44.8, 0.8], [45.0, 0.6],
];

// ---------------- helpers ----------------
function withAlpha(hex: string, a: number) {
  const n = parseInt(hex.slice(1), 16);
  return `rgba(${(n >> 16) & 255},${(n >> 8) & 255},${n & 255},${a})`;
}

type Part = { t: string; s: number; dy: number };

function drawRichVertical(ctx: CanvasRenderingContext2D, cx: number, cy: number, parts: Part[]) {
  ctx.save();
  ctx.translate(cx, cy);
  ctx.rotate(-Math.PI / 2);
  ctx.fillStyle = "#000000";
  ctx.textBaseline = "alphabetic";
  ctx.textAlign = "left";
  let total = 0;
  const widths = parts.map((p) => {
    ctx.font = `${p.s}px ${FONT}`;
    const w = ctx.measureText(p.t).width;
    total += w;
    return w;
  });
  let x = -total / 2;
  parts.forEach((p, i) => {
    ctx.font = `${p.s}px ${FONT}`;
    ctx.fillText(p.t, x, 5 + p.dy);
    x += widths[i];
  });
  ctx.restore();
}

const FCH4_TITLE: Part[] = [
  { t: "FCH", s: 14, dy: 0 },
  { t: "4", s: 9.5, dy: 3 },
  { t: " (g C m", s: 14, dy: 0 },
  { t: "\u22122", s: 9.5, dy: -6 },
  { t: " d", s: 14, dy: 0 },
  { t: "\u22121", s: 9.5, dy: -6 },
  { t: ")", s: 14, dy: 0 },
];
const GPP_TITLE: Part[] = [
  { t: "GPP (g C m", s: 14, dy: 0 },
  { t: "\u22122", s: 9.5, dy: -6 },
  { t: " d", s: 14, dy: 0 },
  { t: "\u22121", s: 9.5, dy: -6 },
  { t: ")", s: 14, dy: 0 },
];

function makeDecorPlugin(panel: "A" | "B") {
  return {
    id: "decor" + panel,
    beforeDatasetsDraw(chart: any) {
      const { ctx, chartArea: ca, scales } = chart;
      ctx.save();
      ctx.strokeStyle = "#333333";
      ctx.lineWidth = 1;
      ctx.setLineDash([5, 4]);
      YEAR_BREAKS.forEach((m) => {
        const x = Math.round(scales.x.getPixelForValue(m)) + 0.5;
        ctx.beginPath();
        ctx.moveTo(x, ca.top);
        ctx.lineTo(x, ca.bottom);
        ctx.stroke();
      });
      ctx.restore();
    },
    afterDraw(chart: any) {
      const { ctx, chartArea: ca, scales } = chart;
      ctx.save();
      ctx.strokeStyle = "#333333";
      ctx.lineWidth = 1;
      ctx.beginPath();
      ctx.moveTo(ca.left, ca.top + 0.5);
      ctx.lineTo(ca.right - 0.5, ca.top + 0.5);
      ctx.lineTo(ca.right - 0.5, ca.bottom);
      ctx.stroke();

      ctx.fillStyle = "#333333";
      ctx.font = `13.5px ${FONT}`;
      ctx.textBaseline = "middle";
      ctx.textAlign = "left";
      ctx.fillText(panel, ca.left + 4, ca.top + 11);

      if (panel === "A") {
        ctx.textAlign = "center";
        YEAR_LABELS.forEach((lab, k) => {
          ctx.fillText(lab, scales.x.getPixelForValue(6.2 + 12 * k), ca.top + 11);
        });
        let x = 289;
        const y = 15;
        ctx.font = `15px ${FONT}`;
        SITES.forEach((name, k) => {
          ctx.strokeStyle = COLORS[k];
          ctx.lineWidth = 4;
          ctx.lineCap = "butt";
          ctx.beginPath();
          ctx.moveTo(x, y);
          ctx.lineTo(x + 21, y);
          ctx.stroke();
          ctx.fillStyle = withAlpha(COLORS[k], 0.35);
          ctx.beginPath();
          ctx.arc(x + 10.5, y, 3.5, 0, Math.PI * 2);
          ctx.fill();
          ctx.fillStyle = "#000000";
          ctx.textAlign = "left";
          ctx.textBaseline = "middle";
          ctx.fillText(name, x + 32, y + 1);
          x += 32 + ctx.measureText(name).width + 15;
        });
      }
      ctx.restore();
      drawRichVertical(ctx, 21, (ca.top + ca.bottom) / 2, panel === "A" ? FCH4_TITLE : GPP_TITLE);
    },
  };
}

function buildConfig(panel: "A" | "B"): any {
  const lines = panel === "A" ? [fch4Deg, fch4HfM, fch4Hmr, fch4Srj] : [gppDeg, gppHfM, gppHmr, gppSrj];
  const obs = panel === "A" ? [fch4DegObs, fch4HfMObs, fch4HmrObs, fch4SrjObs] : [gppDegObs, gppHfMObs, gppHmrObs, gppSrjObs];
  const datasets: any[] = [];
  obs.forEach((pts, k) => {
    datasets.push({
      label: SITES[k] + " obs",
      data: pts.map(([x, y]) => ({ x, y })),
      showLine: false,
      pointRadius: 2.9,
      pointHoverRadius: 0,
      pointBorderWidth: 0,
      pointBackgroundColor: withAlpha(COLORS[k], 0.3),
      pointBorderColor: "rgba(0,0,0,0)",
      order: 10,
    });
  });
  lines.forEach((vals, k) => {
    datasets.push({
      label: SITES[k],
      data: vals.map((y, i) => ({ x: LINE_MONTHS[i], y })),
      showLine: true,
      borderColor: COLORS[k],
      backgroundColor: COLORS[k],
      borderWidth: 4,
      pointRadius: 0,
      pointHoverRadius: 0,
      tension: 0,
      borderJoinStyle: "round",
      borderCapStyle: "round",
      fill: false,
      order: 4 - k,
    });
  });

  const tickFont = { family: FONT, size: 11 };
  return {
    type: "scatter",
    data: { datasets },
    options: {
      animation: false,
      responsive: false,
      maintainAspectRatio: false,
      devicePixelRatio: 1,
      events: [],
      layout: { padding: { left: 8, right: 2, top: panel === "A" ? 31 : 0, bottom: 0 } },
      plugins: { legend: { display: false }, tooltip: { enabled: false } },
      scales: {
        x: {
          type: "linear",
          min: 0,
          max: 47.85,
          afterBuildTicks: (s: any) => {
            s.ticks = MONTH_TICKS.map((v) => ({ value: v }));
          },
          afterFit: (s: any) => {
            s.height = panel === "A" ? 3 : 33;
            s.paddingLeft = 0;
            s.paddingRight = 0;
          },
          grid: { drawOnChartArea: false, drawTicks: true, tickLength: 3, color: "#333333", lineWidth: 1 },
          border: { display: true, color: "#000000", width: 2 },
          ticks: {
            display: panel === "B",
            autoSkip: false,
            maxRotation: 0,
            minRotation: 0,
            padding: 2,
            color: "#4D4D4D",
            font: tickFont,
            callback: (v: number) => MONTH_LETTERS[((Math.round(v) % 12) + 12) % 12],
          },
          title: {
            display: panel === "B",
            text: "Time",
            color: "#000000",
            font: { family: FONT, size: 13.5 },
            padding: { top: 0, bottom: 0 },
          },
        },
        y: {
          type: "linear",
          min: panel === "A" ? -0.0243 : -0.28,
          max: panel === "A" ? 0.1885 : 6.3,
          afterBuildTicks: (s: any) => {
            s.ticks = (panel === "A" ? FCH4_TICKS : GPP_TICKS).map((v) => ({ value: v }));
          },
          afterFit: (s: any) => {
            s.width = 54;
            s.paddingTop = 0;
            s.paddingBottom = 0;
          },
          grid: { drawOnChartArea: false, drawTicks: true, tickLength: 3, color: "#333333", lineWidth: 1 },
          border: { display: true, color: "#000000", width: 2 },
          ticks: {
            color: "#4D4D4D",
            font: tickFont,
            padding: 2,
            callback: (v: number) => (panel === "A" ? v.toFixed(2) : String(Math.round(v))),
          },
        },
      },
    },
    plugins: [makeDecorPlugin(panel)],
  };
}

export default function App() {
  const refA = useRef<HTMLCanvasElement>(null);
  const refB = useRef<HTMLCanvasElement>(null);
  useEffect(() => {
    const a = new Chart(refA.current as HTMLCanvasElement, buildConfig("A"));
    const b = new Chart(refB.current as HTMLCanvasElement, buildConfig("B"));
    return () => {
      a.destroy();
      b.destroy();
    };
  }, []);
  return (
    <div style={{ position: "fixed", left: 0, top: 0, width: 901, height: 529, background: "#ffffff", overflow: "hidden" }}>
      <canvas
        ref={refA}
        width={901}
        height={268}
        style={{ position: "absolute", left: 0, top: 0, width: 901, height: 268 }}
      />
      <canvas
        ref={refB}
        width={901}
        height={261}
        style={{ position: "absolute", left: 0, top: 268, width: 901, height: 261 }}
      />
    </div>
  );
}
